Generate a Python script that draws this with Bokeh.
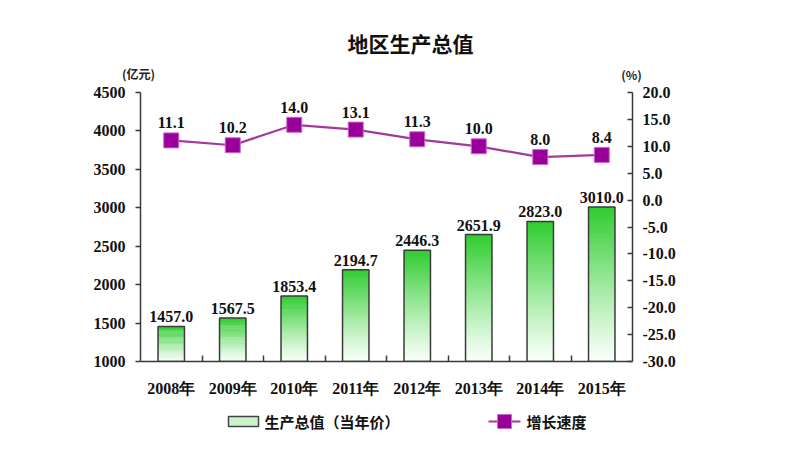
from bokeh.plotting import figure
from bokeh.models import (ColumnDataSource, Range1d, LinearAxis, FixedTicker,
                          NumeralTickFormatter)
from bokeh.layouts import column
from bokeh.core.properties import value
from bokeh.embed import file_html
from bokeh.resources import INLINE

years = ["2008年", "2009年", "2010年", "2011年", "2012年", "2013年", "2014年", "2015年"]
gdp = [1457.0, 1567.5, 1853.4, 2194.7, 2446.3, 2651.9, 2823.0, 3010.0]
growth = [11.1, 10.2, 14.0, 13.1, 11.3, 10.0, 8.0, 8.4]
left_ticks = [1000, 1500, 2000, 2500, 3000, 3500, 4000, 4500]
right_ticks = [-30, -25, -20, -15, -10, -5, 0, 5, 10, 15, 20]
title_text = "地区生产总值"
left_unit = "(亿元)"
right_unit = "(%)"
bar_name = "生产总值（当年价）"
line_name = "增长速度"

NUMF = "Liberation Serif"
CJK = "Noto Sans CJK SC"
HEAD_H = 84
FOOT_H = 57
MAIN_H = 457 - HEAD_H - FOOT_H

BAR_LINE = "#3a3a3a"
LINE_COL = "#a23a9c"
MK_FILL = "#990099"
MK_LINE = "#cc66cc"
TOP_C = (46, 204, 46)
BOT_C = (248, 255, 248)


def blank(fig):
    fig.axis.visible = False
    fig.grid.visible = False
    fig.outline_line_color = None
    fig.frame_align = False


def mix(t):
    return "#%02x%02x%02x" % tuple(int(round(BOT_C[j] + (TOP_C[j] - BOT_C[j]) * t)) for j in range(3))


# ---------- header figure (title + units) ----------
h = figure(width=800, height=HEAD_H, output_backend="svg", toolbar_location=None,
           x_range=Range1d(0, 800), y_range=Range1d(HEAD_H, 0),
           min_border_left=0, min_border_right=0, min_border_top=0, min_border_bottom=0)
blank(h)
h.text(x=[410], y=[42], text=[title_text], text_align="center", text_baseline="middle",
       text_font=value(CJK), text_font_style="bold", text_font_size="21px", text_color="#111111")
h.text(x=[138, 631], y=[73, 74], text=[left_unit, right_unit], text_align="center",
       text_baseline="middle", text_font=value(CJK), text_font_style="bold",
       text_font_size="12px", text_color="#222222")

# ---------- main figure ----------
n = len(years)
xc = [i + 0.5 for i in range(n)]
base = 1000
BW = 0.43

p = figure(width=800, height=MAIN_H, output_backend="svg", toolbar_location=None,
           x_range=Range1d(0, n), y_range=Range1d(1000, 4500),
           min_border_left=140, min_border_right=168, min_border_top=8,
           min_border_bottom=MAIN_H - 8 - 269)
blank(p)

# gradient bars built from slices of each bar
N = 40
xs, bots, tops, cols = [], [], [], []
for i, v in enumerate(gdp):
    hh = v - base
    for k in range(N):
        xs.append(xc[i])
        bots.append(base + hh * k / N)
        tops.append(base + hh * (k + 1) / N + (hh / N * 0.3 if k < N - 1 else 0))
        cols.append(mix(((k + 0.5) / N) ** 1.15))
p.vbar(x=xs, bottom=bots, top=tops, width=BW, fill_color=cols, line_color=None)

src = ColumnDataSource(dict(x=xc, top=gdp, lab=["%.1f" % v for v in gdp], g=growth,
                            glab=["%.1f" % v for v in growth]))
p.vbar(x="x", bottom=base, top="top", width=BW, source=src, fill_alpha=0,
       line_color=BAR_LINE, line_width=1.5)
p.text(x="x", y="top", text="lab", source=src, text_align="center", text_baseline="bottom",
       y_offset=-4, text_font=value(NUMF), text_font_style="bold", text_font_size="16px",
       text_color="#111111")

p.extra_y_ranges = {"rate": Range1d(-30, 20)}
p.line(x="x", y="g", source=src, y_range_name="rate", line_color=LINE_COL, line_width=2.2)
p.scatter(x="x", y="g", source=src, y_range_name="rate", marker="square", size=15,
          fill_color=MK_FILL, line_color=MK_LINE, line_width=1)
p.text(x="x", y="g", text="glab", source=src, y_range_name="rate", text_align="center",
       text_baseline="bottom", y_offset=-12, text_font=value(NUMF), text_font_style="bold",
       text_font_size="16px", text_color="#111111")

axc = "#3a3a3a"


def style(ax):
    ax.axis_line_color = axc
    ax.axis_line_width = 1.5
    ax.major_tick_line_color = axc
    ax.major_tick_line_width = 1.5
    ax.major_label_text_font = NUMF
    ax.major_label_text_font_style = "bold"
    ax.major_label_text_font_size = "16px"
    ax.major_label_text_color = "#111111"


xa = LinearAxis(ticker=FixedTicker(ticks=xc, minor_ticks=list(range(1, n))),
                major_label_overrides={x: y for x, y in zip(xc, years)})
style(xa)
xa.major_tick_line_color = None
xa.minor_tick_in = 6
xa.minor_tick_out = 0
xa.minor_tick_line_color = axc
xa.minor_tick_line_width = 1.5
xa.major_label_standoff = 12
p.add_layout(xa, "below")

ya = LinearAxis(ticker=FixedTicker(ticks=left_ticks, minor_ticks=[]))
style(ya)
ya.major_tick_in = 0
ya.major_tick_out = 5
ya.major_label_standoff = 10
p.add_layout(ya, "left")

ra = LinearAxis(y_range_name="rate", ticker=FixedTicker(ticks=right_ticks, minor_ticks=[]),
                formatter=NumeralTickFormatter(format="0.0"))
style(ra)
ra.major_tick_in = 5
ra.major_tick_out = 0
ra.major_label_standoff = 10
p.add_layout(ra, "right")

# ---------- footer figure (legend drawn as key glyphs) ----------
f = figure(width=800, height=FOOT_H, output_backend="svg", toolbar_location=None,
           x_range=Range1d(0, 800), y_range=Range1d(FOOT_H, 0),
           min_border_left=0, min_border_right=0, min_border_top=0, min_border_bottom=0)
blank(f)
f.quad(left=[228], right=[258], top=[16], bottom=[26], fill_color=mix(0.22),
       line_color="#444444", line_width=1.5)
f.line(x=[488, 520], y=[21, 21], line_color=LINE_COL, line_width=2.2)
f.scatter(x=[504], y=[21], marker="square", size=14, fill_color=MK_FILL, line_color=MK_LINE)
f.text(x=[264, 526], y=[21, 21], text=[bar_name, line_name], text_align="left",
       text_baseline="middle", text_font=value(CJK), text_font_style="bold",
       text_font_size="15px", text_color="#111111")

lay = column(h, p, f, spacing=0)
open("out.html", "w").write(file_html(lay, INLINE))
